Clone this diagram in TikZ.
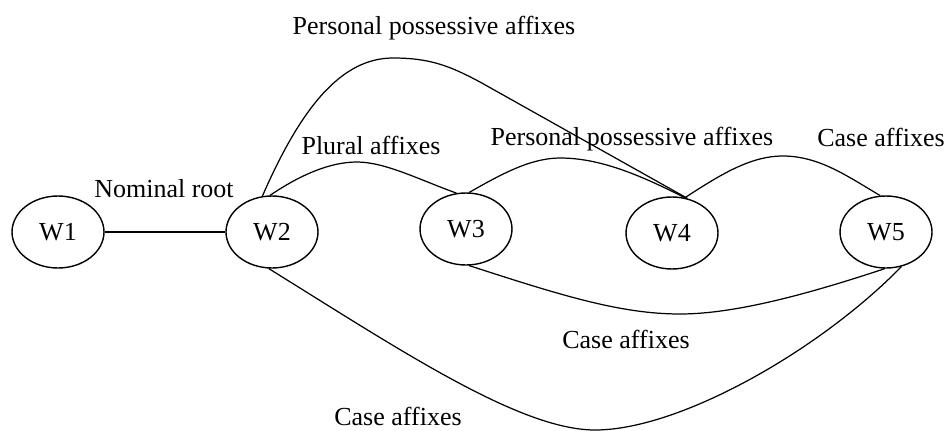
\documentclass[tikz,border=0pt]{standalone}
\usepackage{fontspec}
\setmainfont{Liberation Serif}
\usetikzlibrary{shapes.geometric}

\begin{document}
\begin{tikzpicture}[
  x=0.02cm, y=-0.02cm,
  font=\fontsize{14.8}{17}\selectfont,
  wrd/.style={draw=black, ellipse, line width=0.8pt, minimum width=1.84cm, minimum height=1.44cm, inner sep=0pt},
  lbl/.style={anchor=base, inner sep=0pt},
  lnk/.style={draw=black, line width=0.7pt}
]
\useasboundingbox (0,0) rectangle (946,430);
% states
\node[wrd] (w1) at (58,232) {W1};
\node[wrd] (w2) at (272,232) {W2};
\node[wrd] (w3) at (466,229) {W3};
\node[wrd] (w4) at (672,233) {W4};
\node[wrd] (w5) at (886,232) {W5};
% labels
\node[lbl] (lroot) at (164,197) {Nominal root};
\node[lbl] (lpl) at (371,154) {Plural affixes};
\node[lbl] (lppa) at (434,34) {Personal possessive affixes};
\node[lbl] (lppb) at (632,145) {Personal possessive affixes};
\node[lbl] (lcsa) at (881,146) {Case affixes};
\node[lbl] (lcsb) at (626,348) {Case affixes};
\node[lbl] (lcsc) at (398,425) {Case affixes};
% transitions
\draw[lnk] (w1) -- (w2);
\draw[lnk] (w2.93) .. controls (300,175) and (330,162) .. (357,162) .. controls (385,162) and (420,180) .. (w3.105);
\draw[lnk] (w2.105) .. controls (300,110) and (340,58) .. (393,58) .. controls (430,58) and (450,66) .. (480,82) -- (w4.66);
\draw[lnk] (w3.85) .. controls (500,175) and (530,158) .. (560,158) .. controls (600,158) and (640,175) .. (w4.70);
\draw[lnk] (w4.70) .. controls (720,175) and (750,156) .. (783,156) .. controls (820,156) and (850,178) .. (w5.99);
\draw[lnk] (w3.-85) .. controls (560,295) and (620,314) .. (680,314) .. controls (740,314) and (820,290) .. (w5.-92);
\draw[lnk] (w2.-95) .. controls (400,350) and (520,430) .. (595,430) .. controls (680,430) and (820,350) .. (w5.-66);
\end{tikzpicture}
\end{document}
